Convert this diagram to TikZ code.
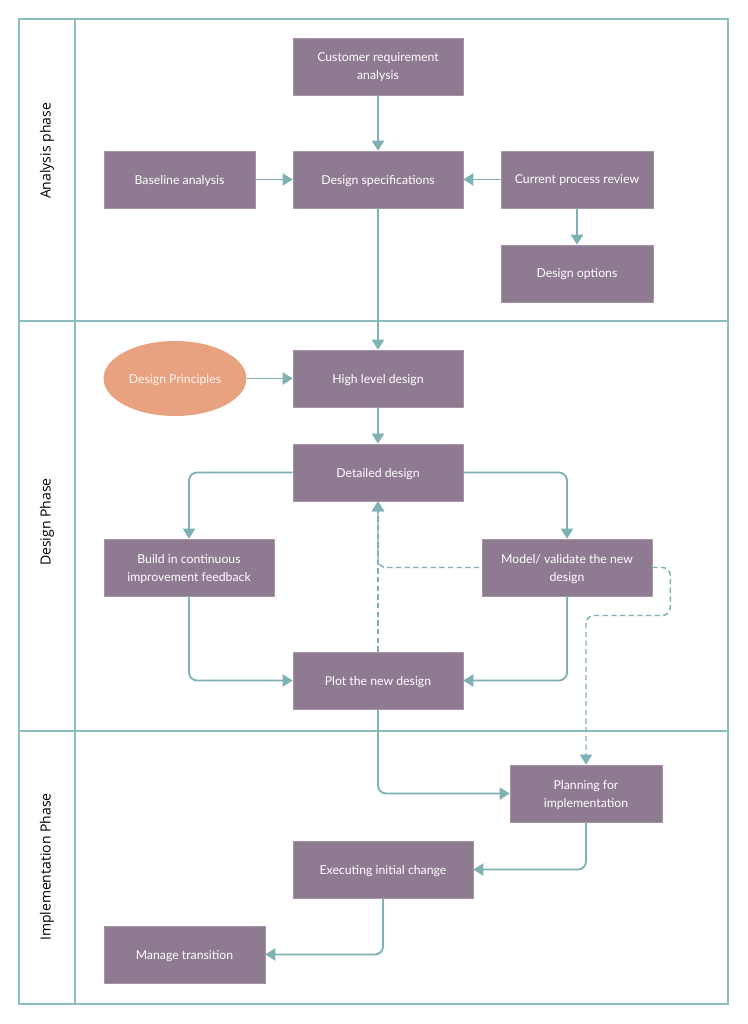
\documentclass[tikz,border=0pt]{standalone}
\usepackage{fontspec}
\setmainfont{Lato}
\newfontfamily\lanefont{Open Sans}
\usetikzlibrary{arrows.meta,shapes.geometric}

\definecolor{BoxColor}{HTML}{8E7B91}
\definecolor{IdeaColor}{HTML}{E9A27F}
\definecolor{LinkColor}{HTML}{7DB1B4}
\definecolor{LaneColor}{HTML}{8CBEC0}

\tikzset{
  stepbox/.style={rectangle, fill=BoxColor, draw=BoxColor!80!white, line width=0.4pt,
    text=white, font=\fontsize{9.2}{13.5}\selectfont, align=center, text depth=0pt,
    minimum width=127.5pt, minimum height=42.75pt, inner sep=2pt},
  ideabox/.style={ellipse, fill=IdeaColor, draw=none, text=white!88!IdeaColor,
    font=\fontsize{9.2}{13.5}\selectfont, text depth=0pt,
    minimum width=106.5pt, minimum height=56.25pt},
  lanetitle/.style={rotate=90, font=\lanefont\fontsize{10.5}{12}\selectfont, text=black},
  flow/.style={draw=LinkColor, line width=1.4pt, rounded corners=6pt,
    -{Triangle[length=7.5pt,width=9pt]}},
  flowdash/.style={flow, line width=1.1pt, dash pattern=on 4pt off 2.5pt}
}

\begin{document}
\begin{tikzpicture}[x=0.75pt, y=-0.75pt]

  %–– Márgenes de la hoja ––
  \useasboundingbox (0,0) rectangle (747,1024);

  %–– Calles (swimlanes) ––
  \def\laneL{19}
  \def\laneR{728}
  \def\laneT{19}
  \def\laneB{1004}
  \def\titleX{75}
  \def\cutA{321}
  \def\cutB{731}

  \draw[LaneColor, line width=1.1pt] (\laneL,\laneT) rectangle (\laneR,\laneB);
  \draw[LaneColor, line width=1.1pt] (\titleX,\laneT) -- (\titleX,\laneB);
  \draw[LaneColor, line width=1.1pt] (\laneL,\cutA) -- (\laneR,\cutA);
  \draw[LaneColor, line width=1.1pt] (\laneL,\cutB) -- (\laneR,\cutB);

  \node[lanetitle] (laneA) at (47,151) {Analysis phase};
  \node[lanetitle] (laneD) at (47,522) {Design Phase};
  \node[lanetitle] (laneI) at (47,867) {Implementation Phase};

  %–– Fase de análisis ––
  \node[stepbox] (cust) at (378,66.5) {Customer requirement\\analysis};
  \node[stepbox] (spec) at (378,179.5) {Design specifications};
  \node[stepbox, minimum width=113.25pt] (base) at (179.5,179.5) {Baseline analysis};
  \node[stepbox, minimum width=114pt] (review) at (577,179.5) {Current process review};
  \node[stepbox, minimum width=114pt] (options) at (577,273.5) {Design options};

  %–– Fase de diseño ––
  \node[ideabox] (principles) at (175,378.5) {Design Principles};
  \node[stepbox] (high) at (378,378.5) {High level design};
  \node[stepbox] (detail) at (378,472.5) {Detailed design};
  \node[stepbox] (build) at (189,567.5) {Build in continuous\\improvement feedback};
  \node[stepbox] (model) at (567,567.5) {Model/ validate the new\\design};
  \node[stepbox] (plot) at (378,680.5) {Plot the new design};

  %–– Fase de implementación ––
  \node[stepbox, minimum width=114pt] (plan) at (586,793.5) {Planning for\\implementation};
  \node[stepbox, minimum width=135pt] (exec) at (383,869.5) {Executing initial change};
  \node[stepbox, minimum width=120.75pt] (manage) at (184.5,954.5) {Manage transition};

  %–– Conectores ––
  \draw[flow] (cust) -- (spec);
  \draw[flow] (base) -- (spec);
  \draw[flow] (review) -- (spec);
  \draw[flow] (review) -- (options);
  \draw[flow] (spec) -- (high);
  \draw[flow] (principles) -- (high);
  \draw[flow] (high) -- (detail);
  \draw[flow] (detail.west) -| (build.north);
  \draw[flow] (detail.east) -| (model.north);
  \draw[flow] (build.south) |- (plot.west);
  \draw[flow] (model.south) |- (plot.east);
  \draw[flowdash] (plot.north) -- (detail.south);
  \draw[flowdash, dash phase=4.6pt] (model.west) -| (detail.south);
  \draw[flowdash] (model.east) -- ++(18,0) -- ++(0,48) -| (plan.north);
  \draw[flow] (plot.south) |- (plan.west);
  \draw[flow] (plan.south) |- (exec.east);
  \draw[flow] (exec.south) |- (manage.east);

\end{tikzpicture}
\end{document}
